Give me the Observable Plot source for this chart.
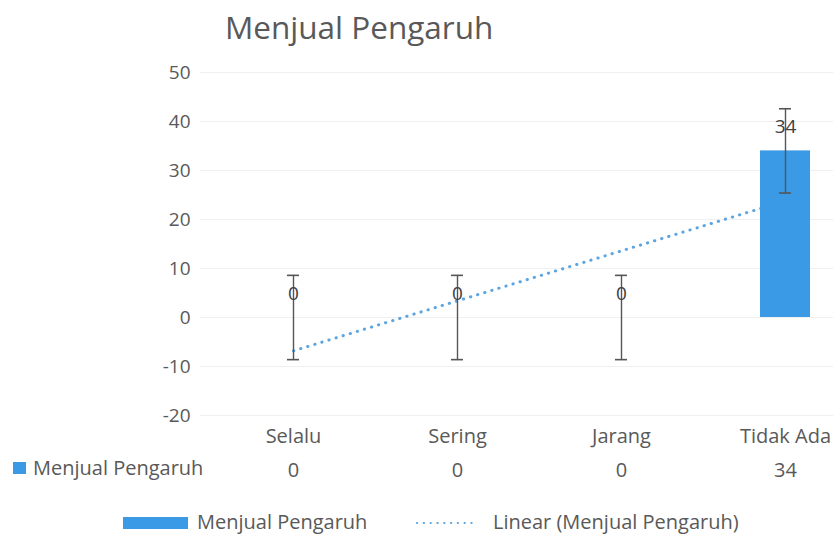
<!DOCTYPE html>
<html><head><meta charset="utf-8">
<script src="https://cdn.jsdelivr.net/npm/d3@7"></script>
<script src="https://cdn.jsdelivr.net/npm/@observablehq/plot@0.6"></script>
<style>
body{margin:0;background:#fff;font-family:"Open Sans",sans-serif;}
#wrap{position:relative;width:833px;height:535px;overflow:hidden;}
#wrap > svg{position:absolute;left:0;top:0;}
.t{position:absolute;color:#595959;white-space:nowrap;line-height:1;font-family:"Open Sans",sans-serif;}
.sw{position:absolute;background:#3a9ae6;}
</style></head><body><div id="wrap"></div>
<script>
const categories = ["Selalu", "Sering", "Jarang", "Tidak Ada"];
const values = [0, 0, 0, 34];
const errors = [8.6, 8.6, 8.6, 8.6];
const yTicks = [-20, -10, 0, 10, 20, 30, 40, 50];
const titleText = "Menjual Pengaruh";
const seriesName = "Menjual Pengaruh";
const trendName = "Linear (Menjual Pengaruh)";

const data = categories.map((c, i) => ({c, v: values[i], e: errors[i], i: i + 1}));
// least-squares linear trendline computed from the values
const mx = d3.mean(data, d => d.i), my = d3.mean(values);
const slope = d3.sum(data, d => (d.i - mx) * (d.v - my)) / d3.sum(data, d => (d.i - mx) ** 2);
const trend = data.map(d => ({c: d.c, t: my + slope * (d.i - mx)}));

const barColor = "#3a9ae6";
const trendColor = "#5aa5e2";
const chart = Plot.plot({
  width: 833, height: 535,
  marginTop: 72, marginBottom: 120, marginLeft: 200, marginRight: 0,
  style: {fontFamily: "'Open Sans', sans-serif", fontSize: "19px", color: "#595959", background: "transparent"},
  x: {domain: categories, range: [211, 867], paddingInner: 0.695, paddingOuter: 0.3475, axis: null, label: null},
  y: {domain: [-20, 50], axis: null, label: null},
  marks: [
    Plot.gridY(yTicks, {stroke: "#f0f0f0", strokeOpacity: 1}),
    Plot.axisY(yTicks, {tickSize: 0, tickPadding: 10, fontSize: 19, fill: "#595959", label: null, tickFormat: d => String(d)}),
    Plot.axisX({tickSize: 0, tickPadding: 13, fontSize: 20, fill: "#595959", label: null}),
    Plot.line(trend, {x: "c", y: "t", stroke: trendColor, strokeWidth: 3, strokeLinecap: "round", strokeDasharray: "0.3,7.1"}),
    Plot.barY(data, {x: "c", y: "v", fill: barColor}),
    Plot.ruleX(data, {x: "c", y1: d => d.v - d.e, y2: d => d.v + d.e, stroke: "#555", strokeWidth: 1.4}),
    Plot.tickY(data, {x: "c", y: d => d.v - d.e, insetLeft: 19, insetRight: 19, stroke: "#555", strokeWidth: 1.6}),
    Plot.tickY(data, {x: "c", y: d => d.v + d.e, insetLeft: 19, insetRight: 19, stroke: "#555", strokeWidth: 1.6}),
    Plot.text(data, {x: "c", y: "v", text: d => String(d.v), dy: -24, fontSize: 19, fill: "#404040"}),
    Plot.text(data, {x: "c", text: d => String(d.v), frameAnchor: "bottom", dy: 61, fontSize: 20, fill: "#595959"})
  ]
});
const wrap = document.getElementById("wrap");
wrap.appendChild(chart);

function addText(txt, left, top, size) {
  const d = document.createElement("div");
  d.className = "t"; d.textContent = txt;
  d.style.left = left + "px"; d.style.top = top + "px"; d.style.fontSize = size + "px";
  wrap.appendChild(d);
}
function addSwatch(left, top, w, h) {
  const s = document.createElement("div");
  s.className = "sw";
  s.style.left = left + "px"; s.style.top = top + "px"; s.style.width = w + "px"; s.style.height = h + "px";
  wrap.appendChild(s);
}
addText(titleText, 225, 11, 31.5);
// data table row label
addSwatch(13, 462, 13, 12);
addText(seriesName, 33, 458, 20);
// legend
addSwatch(123, 517, 65, 12);
addText(seriesName, 197, 512, 20);
const ns = "http://www.w3.org/2000/svg";
const ls = document.createElementNS(ns, "svg");
ls.setAttribute("width", 66); ls.setAttribute("height", 10);
ls.style.position = "absolute"; ls.style.left = "414px"; ls.style.top = "518px";
const ln = document.createElementNS(ns, "line");
ln.setAttribute("x1", 3); ln.setAttribute("x2", 64); ln.setAttribute("y1", 5); ln.setAttribute("y2", 5);
ln.setAttribute("stroke", trendColor); ln.setAttribute("stroke-width", 2.2);
ln.setAttribute("stroke-linecap", "round"); ln.setAttribute("stroke-dasharray", "0.2,6.6");
ls.appendChild(ln); wrap.appendChild(ls);
addText(trendName, 493, 512, 20);
</script></body></html>
